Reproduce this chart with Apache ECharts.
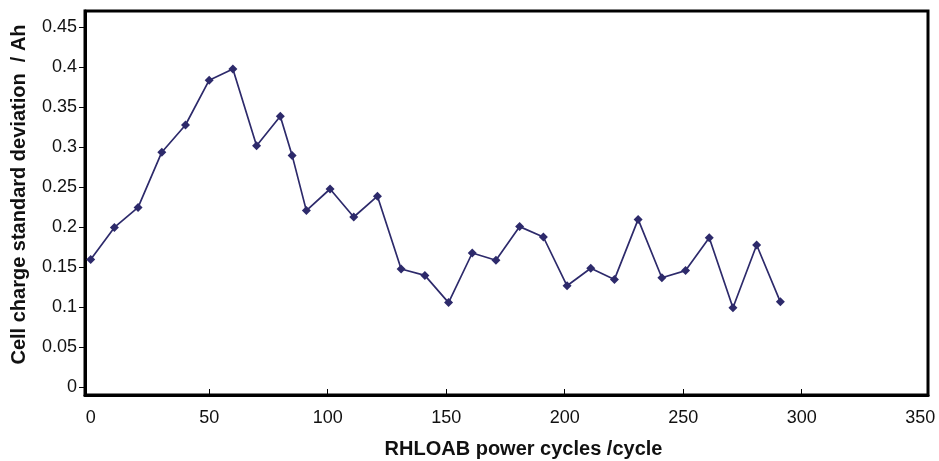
<!DOCTYPE html>
<html>
<head>
<meta charset="utf-8">
<script src="https://cdn.jsdelivr.net/npm/echarts@6/dist/echarts.min.js"></script>
<style>
  html, body { margin: 0; padding: 0; background: #fff; }
  #chart { width: 939px; height: 461px; }
</style>
</head>
<body>
<div id="chart"></div>
<script>
// Power cycles at which the cell charge spread was measured
const cycles = [0, 10, 20, 30, 40, 50, 60, 70, 80, 85, 91, 101, 111, 121, 131, 141, 151,
  161, 171, 181, 191, 201, 211, 221, 231, 241, 251, 261, 271, 281, 291];
// Standard deviation of cell charge (Ah)
const stdDev = [0.160, 0.200, 0.225, 0.294, 0.328, 0.384, 0.398, 0.302, 0.339, 0.290, 0.221,
  0.248, 0.213, 0.239, 0.148, 0.140, 0.106, 0.168, 0.159, 0.201, 0.188, 0.127, 0.149, 0.135,
  0.210, 0.137, 0.146, 0.187, 0.0995, 0.178, 0.107];
// Tick labels
const xTicks = [0, 50, 100, 150, 200, 250, 300, 350];
const xInnerTicks = [50, 100, 150, 200, 250, 300];
const yTicks = [0, 0.05, 0.1, 0.15, 0.2, 0.25, 0.3, 0.35, 0.4, 0.45];

const points = cycles.map((c, i) => [c, stdDev[i]]);
const font = 'Liberation Sans, Arial, sans-serif';
const navy = '#2d2a6b';

const chart = echarts.init(document.getElementById('chart'), null, { renderer: 'canvas' });
chart.setOption({
  animation: false,
  backgroundColor: '#fff',
  grid: {
    left: 85, top: 11, right: 11, bottom: 66,
    outerBoundsMode: 'none',
    containLabel: false,
    show: true, borderColor: '#000', borderWidth: 3, backgroundColor: '#fff'
  },
  xAxis: {
    type: 'value',
    min: -2.4, max: 353.3,
    name: 'RHLOAB power cycles /cycle',
    nameLocation: 'middle',
    nameGap: 44,
    nameTextStyle: { fontFamily: font, fontWeight: 'bold', fontSize: 20, color: '#111',
      padding: [0, 0, 0, 34] },
    splitLine: { show: false },
    axisLine: { show: true, onZero: false, lineStyle: { color: '#000', width: 3 } },
    axisTick: { show: true, inside: true, length: 6, customValues: xInnerTicks,
      lineStyle: { color: '#000', width: 1 } },
    axisLabel: { customValues: xTicks, margin: 14, fontFamily: font, fontSize: 18, color: '#111' }
  },
  yAxis: {
    type: 'value',
    min: -0.0095, max: 0.4705,
    name: 'Cell charge standard deviation  / Ah',
    nameLocation: 'middle',
    nameGap: 56,
    nameRotate: 90,
    nameTextStyle: { fontFamily: font, fontWeight: 'bold', fontSize: 20, color: '#111',
      padding: [0, 0, 0, 17] },
    splitLine: { show: false },
    axisLine: { show: true, onZero: false, lineStyle: { color: '#000', width: 3 } },
    axisTick: { show: true, length: 6, customValues: yTicks, lineStyle: { color: '#000', width: 1 } },
    axisLabel: { customValues: yTicks, margin: 8, fontFamily: font, fontSize: 18, color: '#111',
      formatter: v => String(Math.round(v * 100) / 100) }
  },
  series: [{
    type: 'line',
    data: points,
    symbol: 'diamond',
    symbolSize: 9,
    lineStyle: { color: navy, width: 1.7 },
    itemStyle: { color: navy },
    z: 3
  }]
});
</script>
</body>
</html>
